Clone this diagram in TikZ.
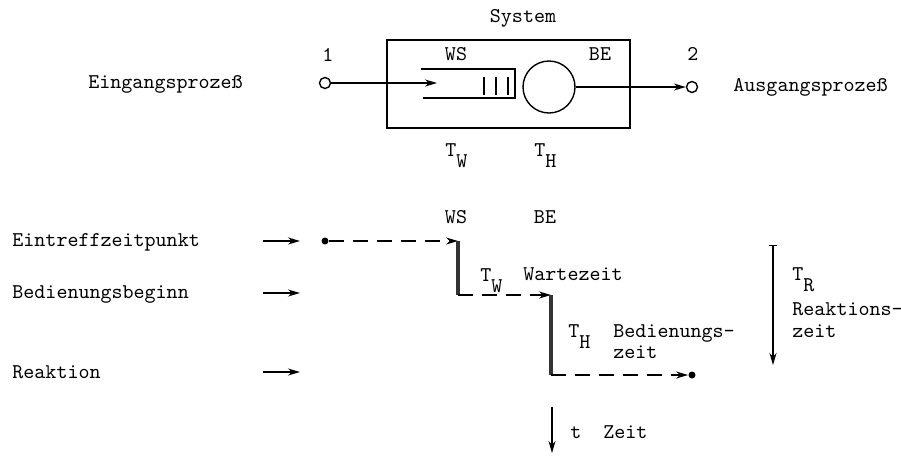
\documentclass[tikz,border=0pt]{standalone}
\usepackage{fontspec}
\usetikzlibrary{arrows.meta}
\newcommand\tsub[2]{#1\raisebox{-5.5pt}{#2}}
\tikzset{
 lbl/.style={font=\ttfamily\fontsize{10.5}{10.5}\selectfont, inner sep=0pt, anchor=base west},
 clbl/.style={lbl, anchor=base},
 ln/.style={line width=0.7pt},
 arr/.style={ln, -{Stealth[length=6pt,width=3.5pt]}},
 dsh/.style={arr, dash pattern=on 7.5pt off 4.5pt},
 stepbar/.style={line width=2.4pt, black!80},
 port/.style={circle, draw, ln, minimum size=5.5pt, inner sep=0pt},
 dotc/.style={circle, fill, minimum size=3.5pt, inner sep=0pt},
}
\begin{document}
\begin{tikzpicture}[x=0.5pt,y=-0.5pt]
\useasboundingbox (0,0) rectangle (901,457);
% ---------- upper part ----------
\node[clbl] (sys) at (523,22) {System};
\node[draw, ln, minimum width=121.5pt, minimum height=44pt, inner sep=0pt] (box) at (508.5,84) {};
\node[clbl] (n1) at (328,61) {1};
\node[clbl] (n2) at (693,60) {2};
\node[clbl] (ws1) at (456,60) {WS};
\node[clbl] (be1) at (600,60) {BE};
\node[port] (p1) at (325,83) {};
\coordinate (qin) at (437,83);
\draw[arr] (p1) -- (qin);
\draw[ln] (421,69) -- (515,69) -- (515,98) -- (423,98);
\draw[line width=0.9pt] (484,77) -- (484,95) (496,77) -- (496,95) (508,77) -- (508,95);
\node[circle, draw, ln, minimum size=26pt, inner sep=0pt] (srv) at (549,87) {};
\node[port] (p2) at (692,87) {};
\draw[arr] (srv) -- (p2);
\node[lbl] (ein) at (88,88) {Eingangsprozeß};
\node[lbl] (aus) at (733,91) {Ausgangsprozeß};
\node[lbl] (tw1) at (445,156) {\tsub{T}{W}};
\node[lbl] (th1) at (534,156) {\tsub{T}{H}};
% ---------- lower part ----------
\node[clbl] (ws2) at (456,223) {WS};
\node[clbl] (be2) at (545,223) {BE};
\node[lbl] (l1) at (12,246) {Eintreffzeitpunkt};
\node[lbl] (l2) at (12,298) {Bedienungsbeginn};
\node[lbl] (l3) at (12,378) {Reaktion};
\coordinate (a1s) at (263,241); \coordinate (a1e) at (300,241);
\coordinate (a2s) at (263,293); \coordinate (a2e) at (300,293);
\coordinate (a3s) at (263,372); \coordinate (a3e) at (300,372);
\draw[arr] (a1s) -- (a1e);
\draw[arr] (a2s) -- (a2e);
\draw[arr] (a3s) -- (a3e);
\node[dotc] (d1) at (325,241) {};
\coordinate (s1t) at (458,241);
\coordinate (s1b) at (458,295);
\coordinate (s2t) at (551,295);
\coordinate (s2b) at (551,375);
\node[dotc] (d2) at (692,375) {};
\draw[dsh] (d1) -- (s1t);
\draw[stepbar] (s1t) -- (s1b);
\draw[dsh] (s1b) -- (s2t);
\draw[stepbar] (s2t) -- (s2b);
\draw[dsh] (s2b) -- (d2);
\node[lbl] (tw2) at (480,281) {\tsub{T}{W}};
\node[lbl] (wz) at (523,280) {Wartezeit};
\node[lbl] (th2) at (568,337) {\tsub{T}{H}};
\node[lbl] (bz1) at (613,337) {Bedienungs-};
\node[lbl] (bz2) at (613,358) {zeit};
\coordinate (ts) at (552,407); \coordinate (te) at (552,453);
\draw[arr] (ts) -- (te);
\node[lbl] (tt) at (570,438) {t};
\node[lbl] (tz) at (603,438) {Zeit};
\coordinate (rs) at (773,245); \coordinate (re) at (773,365);
\draw[ln, {Bar[width=4pt]}-{Stealth[length=6pt,width=3.5pt]}] (rs) -- (re);
\node[lbl] (tr) at (792,280) {\tsub{T}{R}};
\node[lbl] (rz1) at (792,315) {Reaktions-};
\node[lbl] (rz2) at (792,337) {zeit};
\end{tikzpicture}
\end{document}
